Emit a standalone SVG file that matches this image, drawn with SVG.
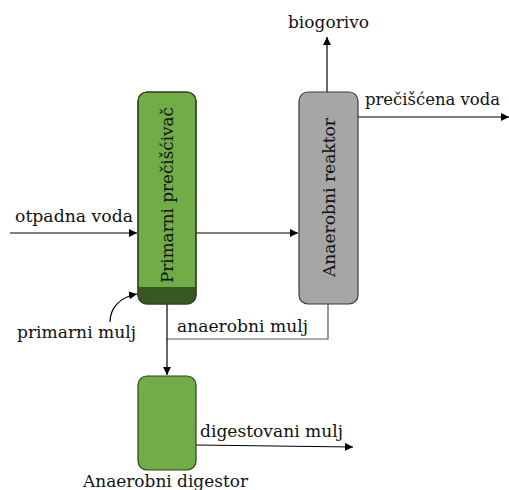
<svg xmlns="http://www.w3.org/2000/svg" width="509" height="490" viewBox="0 0 509 490">
<defs>
<marker id="ah" viewBox="0 0 10 10" refX="10" refY="5" markerWidth="8" markerHeight="8" markerUnits="userSpaceOnUse" orient="auto">
<path d="M0,0 L10,5 L0,10 z" fill="#000"/>
</marker>
<clipPath id="cc"><rect x="138" y="92" width="58" height="212" rx="9"/></clipPath>
</defs>
<style>
text{font-family:"DejaVu Serif","Liberation Serif",serif;font-size:17px;fill:#111}
.ln{fill:none;stroke:#000;stroke-width:1.2}
.g{fill:#70AD47;stroke:#2f3f22;stroke-width:1.2}
.gr{fill:#A6A6A6;stroke:#3a3a3a;stroke-width:1.2}
</style>
<rect width="509" height="490" fill="#fff"/>
<g id="connectors">
<line class="ln" x1="10" y1="233" x2="137" y2="233" marker-end="url(#ah)"/>
<line class="ln" x1="196" y1="233" x2="298" y2="233" marker-end="url(#ah)"/>
<line class="ln" x1="327" y1="92" x2="327" y2="37" marker-end="url(#ah)"/>
<line class="ln" x1="358" y1="117" x2="509" y2="117" marker-end="url(#ah)"/>
<polyline class="ln" points="328,304 328,339 167,339" style="stroke:#555"/>
<line class="ln" x1="167" y1="304" x2="167" y2="375" marker-end="url(#ah)"/>
<line class="ln" x1="196" y1="445" x2="353" y2="447" marker-end="url(#ah)"/>
<path class="ln" d="M110,322 C110,308 120,297 137,294" marker-end="url(#ah)"/>
</g>
<g id="primarni">
<rect class="g" x="138" y="92" width="58" height="212" rx="9"/>
<rect x="138" y="287" width="58" height="17" fill="#385723" clip-path="url(#cc)"/>
<rect x="138" y="92" width="58" height="212" rx="9" fill="none" stroke="#2f3f22" stroke-width="1.2"/>
<text transform="translate(173,283) rotate(-90)" textLength="176" lengthAdjust="spacingAndGlyphs">Primarni prečišćivač</text>
</g>
<g id="reaktor">
<rect class="gr" x="299" y="92" width="59" height="212" rx="9"/>
<text transform="translate(335,277) rotate(-90)" textLength="159" lengthAdjust="spacingAndGlyphs">Anaerobni reaktor</text>
</g>
<g id="digestor">
<rect class="g" x="138" y="376" width="58" height="94" rx="9"/>
</g>
<g id="labels">
<text x="15" y="222" textLength="118" lengthAdjust="spacingAndGlyphs">otpadna voda</text>
<text x="17" y="338" textLength="119" lengthAdjust="spacingAndGlyphs">primarni mulj</text>
<text x="177" y="332" textLength="131" lengthAdjust="spacingAndGlyphs">anaerobni mulj</text>
<text x="288" y="28" textLength="81" lengthAdjust="spacingAndGlyphs">biogorivo</text>
<text x="365" y="105" textLength="135" lengthAdjust="spacingAndGlyphs">prečišćena voda</text>
<text x="200" y="437" textLength="143" lengthAdjust="spacingAndGlyphs">digestovani mulj</text>
<text x="83" y="487" textLength="165" lengthAdjust="spacingAndGlyphs">Anaerobni digestor</text>
</g>
</svg>
